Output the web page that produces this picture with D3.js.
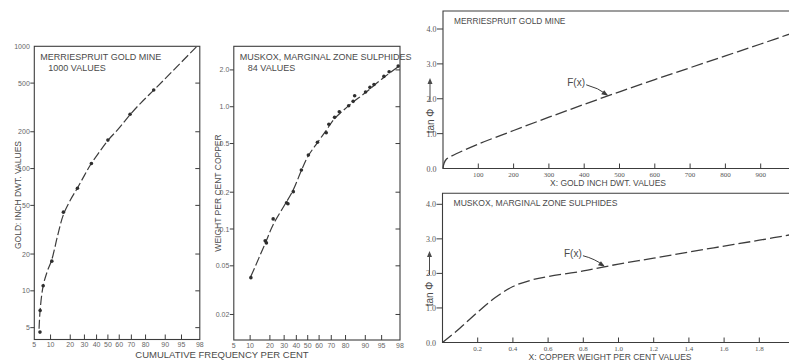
<!DOCTYPE html>
<html><head><meta charset="utf-8">
<script src="https://cdn.jsdelivr.net/npm/d3@7"></script>
<style>body{margin:0;background:#fff}svg{display:block}</style>
</head><body><svg id="c" width="789" height="361"></svg>
<script>
// ---------- DATA ----------
const probTicks = [5,10,20,30,40,50,60,70,80,90,95,98];
const goldTicks = [5,10,20,50,100,200,500,1000];
const goldTickLabels = ["5","10","20","50","100","200","500","1000"];
const copperTicks = [0.02,0.05,0.1,0.2,0.5,1.0,2.0];
const copperTickLabels = ["0.02","0.05","0.1","0.2","0.5","1.0","2.0"];

// Merriespruit cumulative plot: points (cum. % , value)
const goldPointP = [6.45,6.5,7.4,10.5,16,24.8,35.6,50,69,84.7];
const goldPointV = [4.6,6.9,11,17.5,44,69,110,171,278,439];
// fitted curve
const goldCurveP = [6.2,6.5,7.4,8.8,10.5,13,16,20,25,30,35,42,50,60,69,77,85,91,95,97.6];
const goldCurveV = [4.9,7,11,14.5,18,28,42,55,70,88,108,135,170,215,276,345,442,573,743,990];

// Muskox cumulative plot
const cuPointP = [10.3,17.2,17.9,22.1,31.9,33,37.4,44.4,50.6,58.6,66,68.1,72.5,75.9,81.9,84.4,85.2,90.1,91.7,93,95.5,96.5,97.8];
const cuPointV = [0.040,0.080,0.077,0.121,0.164,0.161,0.202,0.304,0.403,0.512,0.613,0.718,0.819,0.91,1.02,1.107,1.23,1.32,1.44,1.52,1.77,1.93,2.15];
const cuCurveP = [10.3,17,22,30,37,44,50,58,66,72,78,84,90,95,98];
const cuCurveV = [0.041,0.075,0.108,0.155,0.205,0.295,0.39,0.5,0.64,0.79,0.92,1.08,1.3,1.68,2.18];

// tan phi curves
const tanTicks = [0,1,2,3,4];
const tanTickLabels = ["0.0","1.0","2.0","3.0","4.0"];
const goldXTicks = [100,200,300,400,500,600,700,800,900];
const goldFX = [0,3,10,25,100,200,300,400,500,600,700,800,900,1000];
const goldFY = [0,0.15,0.27,0.36,0.70,1.09,1.47,1.84,2.2,2.55,2.89,3.23,3.57,3.92];
const cuXTicks = [0.2,0.4,0.6,0.8,1.0,1.2,1.4,1.6,1.8,2.0];
const cuXTickLabels = ["0.2","0.4","0.6","0.8","1.0","1.2","1.4","1.6","1.8","2"];
const cuFX = [0,0.1,0.2,0.3,0.4,0.5,0.6,0.8,1.0,1.2,1.4,1.6,1.8,2.0];
const cuFY = [0,0.42,0.88,1.3,1.62,1.8,1.91,2.07,2.27,2.44,2.62,2.79,2.96,3.14];
const goldArrowX = 468;
const cuArrowX = 0.923;

// ---------- helpers ----------
function probit(p){
 const a=[-3.969683028665376e+01,2.209460984245205e+02,-2.759285104469687e+02,1.383577518672690e+02,-3.066479806614716e+01,2.506628277459239e+00];
 const b=[-5.447609879822406e+01,1.615858368580409e+02,-1.556989798598866e+02,6.680131188771972e+01,-1.328068155288572e+01];
 const c=[-7.784894002430293e-03,-3.223964580411365e-01,-2.400758277161838e+00,-2.549732539343734e+00,4.374664141464968e+00,2.938163982698783e+00];
 const d=[7.784695709041462e-03,3.224671290700398e-01,2.445134137142996e+00,3.754408661907416e+00];
 const pl=0.02425, ph=1-pl; let q,r;
 if(p<pl){q=Math.sqrt(-2*Math.log(p));return (((((c[0]*q+c[1])*q+c[2])*q+c[3])*q+c[4])*q+c[5])/((((d[0]*q+d[1])*q+d[2])*q+d[3])*q+1);}
 if(p<=ph){q=p-0.5;r=q*q;return (((((a[0]*r+a[1])*r+a[2])*r+a[3])*r+a[4])*r+a[5])*q/(((((b[0]*r+b[1])*r+b[2])*r+b[3])*r+b[4])*r+1);}
 q=Math.sqrt(-2*Math.log(1-p));return -(((((c[0]*q+c[1])*q+c[2])*q+c[3])*q+c[4])*q+c[5])/((((d[0]*q+d[1])*q+d[2])*q+d[3])*q+1);
}
function probScale(x0,x1){
  const lin = d3.scaleLinear().domain([probit(0.05),probit(0.98)]).range([x0,x1]);
  return p => lin(probit(p/100));
}
function interp(xs,ys,v){
  for(let i=1;i<xs.length;i++){ if(v<=xs[i]){const t=(v-xs[i-1])/(xs[i]-xs[i-1]);return ys[i-1]+t*(ys[i]-ys[i-1]);} }
  return ys[ys.length-1];
}

const INK="#3c3c3c", TXT="#4a4a4a";
const SANS="'Liberation Sans Narrow','Liberation Sans',Arial,sans-serif";
const SERIF="'Liberation Serif','Times New Roman',serif";
const svg = d3.select("#c");

// ---------- Left probability panels ----------
function probPanel(cfg){
  const g = svg.append("g");
  const x = probScale(cfg.x0, cfg.x1);
  const y = d3.scaleLog().domain(cfg.ydom).range([cfg.yb, cfg.yt]);
  g.append("rect").attr("x",cfg.x0).attr("y",cfg.yt).attr("width",cfg.x1-cfg.x0).attr("height",cfg.yb-cfg.yt)
   .attr("fill","none").attr("stroke",INK).attr("stroke-width",1.1);
  cfg.yticks.forEach((v,i)=>{
    const yy=y(v);
    if (yy>cfg.yt+1){
      g.append("line").attr("x1",cfg.x0-4).attr("x2",cfg.x0).attr("y1",yy).attr("y2",yy).attr("stroke",INK);
      g.append("line").attr("x1",cfg.x1-4.5).attr("x2",cfg.x1).attr("y1",yy).attr("y2",yy).attr("stroke",INK);
    }
    g.append("text").attr("x",cfg.x0-4.5).attr("y",yy+2.5).attr("text-anchor","end")
     .attr("font-family",SANS).attr("font-size",7).attr("fill","#666").text(cfg.ylabels[i]);
  });
  probTicks.forEach(p=>{
    const xx=x(p);
    if (p>5 && p<98) g.append("line").attr("x1",xx).attr("x2",xx).attr("y1",cfg.yb).attr("y2",cfg.yb-5).attr("stroke",INK);
    g.append("text").attr("x",xx).attr("y",cfg.yb+7.5).attr("text-anchor","middle")
     .attr("font-family",SANS).attr("font-size",7).attr("fill","#666").text(p);
  });
  const pts = cfg.cp.map((p,i)=>[x(p), y(cfg.cv[i])]);
  g.append("path").attr("d", d3.line().curve(d3.curveCatmullRom.alpha(0.5))(pts))
   .attr("fill","none").attr("stroke",INK).attr("stroke-width",1.2).attr("stroke-dasharray","9,3");
  g.selectAll("circle.pt").data(cfg.pp).join("circle")
   .attr("cx",(p)=>x(p)).attr("cy",(p,i)=>y(cfg.pv[i])).attr("r",1.8).attr("fill","#2e2e2e");
  g.append("text").attr("x",cfg.x0+6).attr("y",cfg.yt+14).attr("font-family",SANS).attr("font-size",9)
   .attr("fill",TXT).text(cfg.title1);
  g.append("text").attr("x",cfg.x0+14).attr("y",cfg.yt+25).attr("font-family",SANS).attr("font-size",9)
   .attr("fill",TXT).text(cfg.title2);
  g.append("text").attr("transform",`translate(${cfg.ylabX},${cfg.ylabY}) rotate(-90)`).attr("text-anchor","middle")
   .attr("font-family",SANS).attr("font-size",8.5).attr("fill",TXT).text(cfg.ylab);
}

probPanel({x0:34.3,x1:199.8,yt:46.3,yb:339.5,ydom:[4.0,1000],yticks:goldTicks,ylabels:goldTickLabels,
  cp:goldCurveP,cv:goldCurveV,pp:goldPointP,pv:goldPointV,
  title1:"MERRIESPRUIT GOLD  MINE",title2:"1000 VALUES",ylab:"GOLD: INCH DWT. VALUES",ylabX:20.5,ylabY:195});
probPanel({x0:233.8,x1:400,yt:46.3,yb:340,ydom:[0.01237,3.12],yticks:copperTicks,ylabels:copperTickLabels,
  cp:cuCurveP,cv:cuCurveV,pp:cuPointP,pv:cuPointV,
  title1:"MUSKOX, MARGINAL ZONE SULPHIDES",title2:"84  VALUES",ylab:"WEIGHT  PER CENT COPPER",ylabX:221,ylabY:193});

svg.append("text").attr("x",222).attr("y",358).attr("text-anchor","middle").attr("font-family",SANS)
  .attr("font-size",9.5).attr("fill",TXT).text("CUMULATIVE FREQUENCY PER CENT");

// ---------- Right tan-phi panels ----------
function tanPanel(cfg){
  const g = svg.append("g");
  const x = d3.scaleLinear().domain(cfg.xdom).range([cfg.x0, cfg.x1]);
  const y = d3.scaleLinear().domain([0,4]).range([cfg.y0, cfg.y4]);
  g.append("path").attr("d",`M800,${cfg.yt}H${cfg.x0}V${cfg.y0}H800`).attr("fill","none").attr("stroke",INK).attr("stroke-width",1.1);
  tanTicks.forEach((v,i)=>{
    const yy=y(v);
    if(v>0) g.append("line").attr("x1",cfg.x0-6).attr("x2",cfg.x0).attr("y1",yy).attr("y2",yy).attr("stroke",INK);
    g.append("text").attr("x",cfg.x0-6.5).attr("y",yy+3).attr("text-anchor","end").attr("font-family",SERIF)
     .attr("font-size",8).attr("fill","#555").text(tanTickLabels[i]);
  });
  cfg.xticks.forEach((v,i)=>{
    const xx=x(v);
    g.append("line").attr("x1",xx).attr("x2",xx).attr("y1",cfg.y0).attr("y2",cfg.y0-5).attr("stroke",INK);
    g.append("text").attr("x",xx).attr("y",cfg.y0+8.5).attr("text-anchor","middle").attr("font-family",SERIF)
     .attr("font-size",7).attr("fill","#555").text(cfg.xlabels[i]);
  });
  const pts = cfg.fx.map((v,i)=>[x(v), y(cfg.fy[i])]);
  g.append("path").attr("d", d3.line().curve(d3.curveCatmullRom.alpha(0.5))(pts))
   .attr("fill","none").attr("stroke",INK).attr("stroke-width",1.3).attr("stroke-dasharray","12,4");
  g.append("text").attr("x",cfg.x0+11).attr("y",cfg.yt+13).attr("font-family",SANS).attr("font-size",cfg.titleSize)
   .attr("fill",TXT).text(cfg.title);
  g.append("text").attr("x",cfg.xlabX).attr("y",cfg.y0+17.3).attr("text-anchor","middle").attr("font-family",SANS)
   .attr("font-size",8.5).attr("fill",TXT).text(cfg.xlab);
  const lx=cfg.x0-9.5;
  g.append("text").attr("transform",`translate(${lx},${cfg.labY}) rotate(-90)`).attr("text-anchor","middle")
   .attr("font-family",SANS).attr("font-size",10).attr("fill",TXT).text("tan Φ");
  g.append("line").attr("x1",lx-3.5).attr("x2",lx-3.5).attr("y1",cfg.labY-19).attr("y2",cfg.labY-39).attr("stroke",TXT).attr("stroke-width",1);
  g.append("path").attr("d",`M${lx-3.5},${cfg.labY-43}l-2.5,6h5z`).attr("fill",TXT);
  const tx=x(cfg.ax), ty=y(interp(cfg.fx,cfg.fy,cfg.ax));
  g.append("text").attr("x",tx-41).attr("y",ty-10).attr("font-family",SANS).attr("font-size",10).attr("fill",TXT).text("F(x)");
  g.append("path").attr("d",`M${tx-22},${ty-11} Q${tx-10},${ty-8} ${tx-1},${ty-1}`).attr("fill","none").attr("stroke",INK).attr("stroke-width",1);
  g.append("path").attr("d",`M${tx},${ty} l-7,-1.5 l3,-4 z`).attr("fill",INK);
}

tanPanel({xdom:[0,1000],x0:443,x1:796,y0:168.5,y4:29,yt:11,xticks:goldXTicks,xlabels:goldXTicks.map(String),
  fx:goldFX,fy:goldFY,ax:goldArrowX,title:"MERRIESPRUIT GOLD  MINE",titleSize:8.3,xlab:"X: GOLD INCH DWT. VALUES",xlabX:608,labY:121});
tanPanel({xdom:[0,2],x0:442.5,x1:794.5,y0:342.5,y4:204.3,yt:193.3,xticks:cuXTicks,xlabels:cuXTickLabels,
  fx:cuFX,fy:cuFY,ax:cuArrowX,title:"MUSKOX, MARGINAL ZONE SULPHIDES",titleSize:8.6,xlab:"X: COPPER WEIGHT  PER CENT  VALUES",xlabX:610,labY:294});
</script></body></html>
